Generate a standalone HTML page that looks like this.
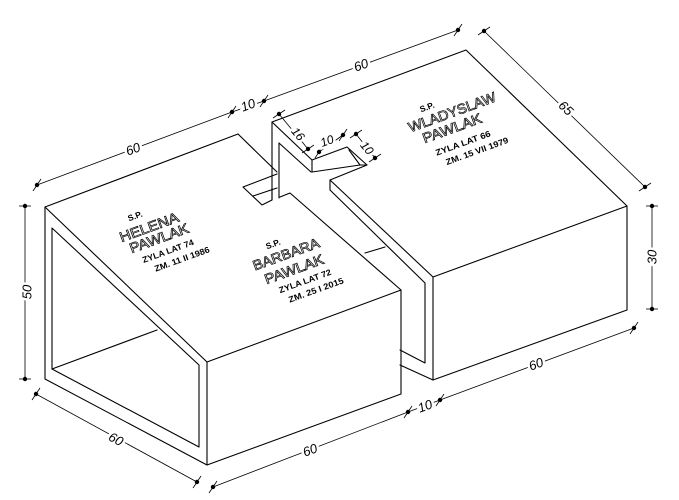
<!DOCTYPE html>
<html><head><meta charset="utf-8"><style>
html,body{margin:0;padding:0;background:#fff;}
svg{display:block;}
.l{stroke:#000;stroke-width:1.1;fill:none;stroke-linecap:round;stroke-linejoin:round}
.d{stroke:#000;stroke-width:0.8;fill:none}
.dt{font-family:"Liberation Sans",sans-serif;font-style:italic;font-size:13px;fill:#000;stroke:#fff;stroke-width:5px;paint-order:stroke;text-anchor:middle;dominant-baseline:central}
.nm{font-family:"Liberation Sans",sans-serif;font-size:14px;fill:#fff;stroke:#000;stroke-width:0.7;text-anchor:middle;dominant-baseline:central}
.sm{font-family:"Liberation Sans",sans-serif;font-weight:bold;font-size:8.5px;fill:#000;text-anchor:middle;dominant-baseline:central}
</style></head><body>
<svg width="679" height="500" viewBox="0 0 679 500" xmlns="http://www.w3.org/2000/svg">
<polyline class="l" points="238,134 45,207 45,379 207,465 401,394 401,290 290,193 280,197"/>
<line class="l" x1="45" y1="207" x2="207" y2="362"/>
<line class="l" x1="207" y1="362" x2="207" y2="465"/>
<line class="l" x1="207" y1="362" x2="401" y2="290"/>
<polyline class="l" points="52,228 52,369 199,447 199,365 52,228"/>
<line class="l" x1="52" y1="369" x2="157" y2="330"/>
<line class="l" x1="238" y1="134" x2="277" y2="172"/>
<polyline class="l" points="277,174 243,187 262,205 272,200"/>
<line class="l" x1="253" y1="196" x2="277" y2="188"/>
<line class="l" x1="272" y1="188" x2="272" y2="200"/>
<line class="l" x1="272" y1="122" x2="272" y2="200"/>
<line class="l" x1="279" y1="143" x2="279" y2="198"/>
<line class="l" x1="272" y1="122" x2="312" y2="160"/>
<line class="l" x1="279" y1="143" x2="311" y2="172"/>
<polyline class="l" points="312,172 312,160 347,147 367,165 360,165 312,172"/>
<line class="l" x1="349" y1="150" x2="360" y2="165"/>
<polyline class="l" points="272,122 466,50 627,206 627,310 433,380 433,277 627,206"/>
<polyline class="l" points="367,165 330,180 330,190 425,283 425,363 400,350"/>
<line class="l" x1="330" y1="180" x2="433" y2="277"/>
<line class="l" x1="400" y1="365" x2="433" y2="380"/>
<line class="l" x1="365" y1="253" x2="385" y2="247"/>
<g class="d">
<line x1="37" y1="185" x2="232" y2="112"/>
<line x1="232" y1="112" x2="264" y2="101"/>
<line x1="264" y1="101" x2="458" y2="30"/>
<line x1="484" y1="31" x2="645" y2="187"/>
<line x1="652" y1="206" x2="652" y2="309"/>
<line x1="440" y1="400" x2="634" y2="328"/>
<line x1="408" y1="412" x2="440" y2="400"/>
<line x1="213" y1="487" x2="408" y2="412"/>
<line x1="36" y1="394" x2="197" y2="482"/>
<line x1="25" y1="206" x2="25" y2="379"/>
<line x1="279" y1="114" x2="308" y2="149"/>
<line x1="319" y1="152" x2="343" y2="135"/>
<line x1="356" y1="134" x2="375" y2="158"/>
</g>
<g fill="#000" stroke="#000" stroke-width="0.8">
<circle cx="37" cy="185" r="1.8"/><line x1="33" y1="191" x2="41" y2="179"/>
<circle cx="232" cy="112" r="1.8"/><line x1="228" y1="118" x2="236" y2="106"/>
<circle cx="264" cy="101" r="1.8"/><line x1="260" y1="107" x2="268" y2="95"/>
<circle cx="458" cy="30" r="1.8"/><line x1="454" y1="36" x2="462" y2="24"/>
<circle cx="484" cy="31" r="1.8"/><line x1="478" y1="35" x2="490" y2="27"/>
<circle cx="645" cy="187" r="1.8"/><line x1="639" y1="191" x2="651" y2="183"/>
<circle cx="652" cy="206" r="1.8"/><line x1="646" y1="206" x2="658" y2="206"/>
<circle cx="652" cy="309" r="1.8"/><line x1="646" y1="309" x2="658" y2="309"/>
<circle cx="634" cy="328" r="1.8"/><line x1="630" y1="334" x2="638" y2="322"/>
<circle cx="440" cy="400" r="1.8"/><line x1="436" y1="406" x2="444" y2="394"/>
<circle cx="408" cy="412" r="1.8"/><line x1="404" y1="418" x2="412" y2="406"/>
<circle cx="213" cy="487" r="1.8"/><line x1="209" y1="493" x2="217" y2="481"/>
<circle cx="197" cy="482" r="1.8"/><line x1="193" y1="488" x2="201" y2="476"/>
<circle cx="36" cy="394" r="1.8"/><line x1="32" y1="400" x2="40" y2="388"/>
<circle cx="25" cy="206" r="1.8"/><line x1="19" y1="206" x2="31" y2="206"/>
<circle cx="25" cy="379" r="1.8"/><line x1="19" y1="379" x2="31" y2="379"/>
<circle cx="279" cy="114" r="1.8"/><line x1="273" y1="118" x2="285" y2="110"/>
<circle cx="308" cy="149" r="1.8"/><line x1="302" y1="153" x2="314" y2="145"/>
<circle cx="319" cy="152" r="1.8"/><line x1="315" y1="158" x2="323" y2="146"/>
<circle cx="343" cy="135" r="1.8"/><line x1="339" y1="141" x2="347" y2="129"/>
<circle cx="356" cy="134" r="1.8"/><line x1="350" y1="138" x2="362" y2="130"/>
<circle cx="375" cy="158" r="1.8"/><line x1="369" y1="162" x2="381" y2="154"/>
</g>
<text class="dt" x="133" y="149" transform="rotate(-20 133 149)">60</text>
<text class="dt" x="248" y="105" transform="rotate(-20 248 105)">10</text>
<text class="dt" x="361" y="65" transform="rotate(-20 361 65)">60</text>
<text class="dt" x="566" y="108" transform="rotate(44 566 108)">65</text>
<text class="dt" x="652" y="257" transform="rotate(-90 652 257)">30</text>
<text class="dt" x="536" y="364" transform="rotate(-20 536 364)">60</text>
<text class="dt" x="425" y="406" transform="rotate(-20 425 406)">10</text>
<text class="dt" x="310" y="450" transform="rotate(-20 310 450)">60</text>
<text class="dt" x="116" y="439" transform="rotate(28 116 439)">60</text>
<text class="dt" x="27" y="292" transform="rotate(-90 27 292)">50</text>
<text class="dt" x="298" y="134" transform="rotate(50 298 134)" style="font-size:12px">16</text>
<text class="dt" x="327" y="141" transform="rotate(-20 327 141)" style="font-size:12px">10</text>
<text class="dt" x="367" y="148" transform="rotate(50 367 148)" style="font-size:12px">10</text>
<text class="sm" x="135" y="216" transform="rotate(-20 135 216)">S.P.</text>
<text class="nm" x="149" y="227" transform="rotate(-20 149 227)" textLength="62" lengthAdjust="spacingAndGlyphs">HELENA</text>
<text class="nm" x="159" y="238" transform="rotate(-20 159 238)" textLength="62" lengthAdjust="spacingAndGlyphs">PAWLAK</text>
<text class="sm" x="168" y="251" transform="rotate(-20 168 251)" textLength="54" lengthAdjust="spacingAndGlyphs">ZYLA LAT 74</text>
<text class="sm" x="182" y="259" transform="rotate(-20 182 259)" textLength="58" lengthAdjust="spacingAndGlyphs">ZM. 11 II 1986</text>
<text class="sm" x="273" y="244" transform="rotate(-20 273 244)">S.P.</text>
<text class="nm" x="286" y="254" transform="rotate(-20 286 254)" textLength="70" lengthAdjust="spacingAndGlyphs">BARBARA</text>
<text class="nm" x="294" y="269" transform="rotate(-20 294 269)" textLength="62" lengthAdjust="spacingAndGlyphs">PAWLAK</text>
<text class="sm" x="305" y="281" transform="rotate(-20 305 281)" textLength="55" lengthAdjust="spacingAndGlyphs">ZYLA LAT 72</text>
<text class="sm" x="316" y="290" transform="rotate(-20 316 290)" textLength="58" lengthAdjust="spacingAndGlyphs">ZM. 25 I 2015</text>
<text class="sm" x="427" y="107" transform="rotate(-20 427 107)">S.P.</text>
<text class="nm" x="452" y="112" transform="rotate(-20 452 112)" textLength="92" lengthAdjust="spacingAndGlyphs">WLADYSLAW</text>
<text class="nm" x="452" y="128" transform="rotate(-20 452 128)" textLength="62" lengthAdjust="spacingAndGlyphs">PAWLAK</text>
<text class="sm" x="463" y="143" transform="rotate(-20 463 143)" textLength="58" lengthAdjust="spacingAndGlyphs">ZYLA LAT 66</text>
<text class="sm" x="477" y="151" transform="rotate(-20 477 151)" textLength="66" lengthAdjust="spacingAndGlyphs">ZM. 15 VII 1979</text>
</svg>
</body></html>
